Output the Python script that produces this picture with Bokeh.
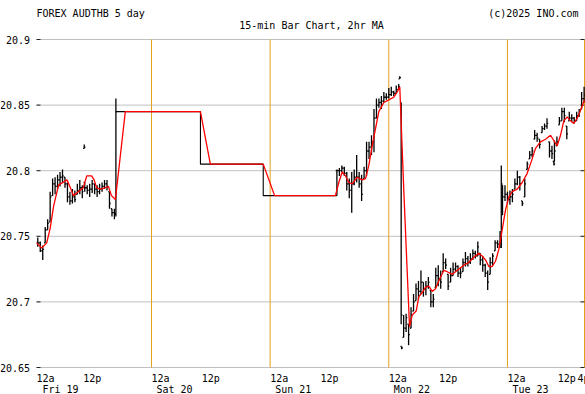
from bokeh.plotting import figure
from bokeh.models import Range1d, ColumnDataSource
from bokeh.core.properties import value
from bokeh.embed import file_html
from bokeh.resources import INLINE

# ---- data (time in hours since Fri 19 00:00, 30-min OHLC bars) ----
bar_hours = [1.0, 1.5, 2.0, 2.5, 3.0, 3.5, 4.0, 4.5, 5.0, 5.5, 6.0, 6.5, 7.0, 7.5, 8.0, 8.5,
             9.0, 9.5, 10.0, 10.4, 10.5, 11.0, 11.5, 12.0, 12.5, 13.0, 13.5, 14.0, 14.5, 15.0,
             15.5, 16.0, 16.5, 16.8,
             61.5, 62.0, 62.5, 63.0, 63.5, 64.0, 64.5, 65.0, 65.5, 66.0, 66.5, 67.0, 67.5, 68.0,
             68.5, 69.0, 69.5, 70.0, 70.5, 71.0, 71.5, 72.0, 72.5, 73.0, 73.5, 74.0, 74.2, 74.5,
             74.6,
             75.0, 75.5, 76.0, 76.5, 77.0, 77.5, 78.0, 78.5, 79.0, 79.5, 80.0, 80.5, 81.0, 81.5,
             82.0, 82.5, 83.0, 83.5, 84.0, 84.5, 85.0, 85.5, 86.0, 86.5, 87.0, 87.5, 88.0, 88.5,
             89.0, 89.5, 90.0, 90.5, 91.0, 91.5, 92.0, 92.5, 93.0, 93.5, 94.0, 94.5,
             94.75, 95.0, 95.5, 96.0, 96.5, 97.0, 97.5, 98.0, 98.5, 99.0, 99.5, 100.0, 100.5,
             101.0, 101.5, 102.0, 102.5, 103.0, 103.5, 104.0, 104.5, 105.0, 105.4, 105.5, 106.0,
             106.5, 107.0, 107.5, 108.0, 108.5, 109.0, 109.5, 110.0, 110.5, 111.0, 111.5]
bar_high = [20.749, 20.746, 20.743, 20.757, 20.763, 20.784, 20.794, 20.795, 20.797, 20.799,
            20.801, 20.795, 20.791, 20.784, 20.786, 20.785, 20.790, 20.793, 20.789, 20.820,
            20.791, 20.789, 20.790, 20.793, 20.790, 20.789, 20.790, 20.791, 20.793, 20.793,
            20.784, 20.771, 20.771, 20.855,
            20.801, 20.802, 20.804, 20.803, 20.799, 20.794, 20.799, 20.801, 20.812, 20.799,
            20.797, 20.803, 20.822, 20.822, 20.827, 20.847, 20.855, 20.855, 20.857, 20.860,
            20.859, 20.863, 20.864, 20.861, 20.865, 20.866, 20.872, 20.852, 20.666,
            20.690, 20.691, 20.683, 20.696, 20.706, 20.714, 20.716, 20.724, 20.715, 20.716,
            20.719, 20.709, 20.706, 20.726, 20.728, 20.724, 20.737, 20.733, 20.721, 20.726,
            20.730, 20.730, 20.728, 20.726, 20.733, 20.738, 20.735, 20.737, 20.740, 20.739,
            20.746, 20.737, 20.735, 20.729, 20.724, 20.734, 20.737, 20.747, 20.747, 20.754,
            20.804, 20.789, 20.789, 20.784, 20.785, 20.786, 20.794, 20.800, 20.796, 20.777,
            20.794, 20.807, 20.815, 20.818, 20.831, 20.829, 20.824, 20.834, 20.836, 20.840,
            20.822, 20.819, 20.807, 20.823, 20.826, 20.841, 20.848, 20.848, 20.834, 20.845,
            20.843, 20.841, 20.845, 20.847, 20.860, 20.864]
bar_low = [20.742, 20.738, 20.732, 20.745, 20.755, 20.761, 20.781, 20.782, 20.786, 20.788,
           20.791, 20.787, 20.776, 20.774, 20.775, 20.776, 20.782, 20.782, 20.779, 20.817,
           20.784, 20.782, 20.780, 20.783, 20.782, 20.780, 20.782, 20.784, 20.786, 20.785,
           20.771, 20.765, 20.763, 20.765,
           20.781, 20.796, 20.799, 20.796, 20.785, 20.779, 20.768, 20.789, 20.791, 20.787,
           20.777, 20.794, 20.796, 20.809, 20.812, 20.814, 20.840, 20.848, 20.847, 20.852,
           20.854, 20.855, 20.857, 20.857, 20.859, 20.862, 20.870, 20.683, 20.664,
           20.673, 20.677, 20.667, 20.680, 20.693, 20.701, 20.702, 20.706, 20.704, 20.705,
           20.710, 20.696, 20.696, 20.711, 20.712, 20.710, 20.723, 20.725, 20.709, 20.715,
           20.720, 20.723, 20.719, 20.718, 20.723, 20.727, 20.727, 20.729, 20.732, 20.733,
           20.735, 20.728, 20.723, 20.719, 20.709, 20.721, 20.728, 20.739, 20.741, 20.741,
           20.741, 20.766, 20.777, 20.775, 20.774, 20.776, 20.786, 20.789, 20.785, 20.773,
           20.780, 20.801, 20.809, 20.810, 20.824, 20.822, 20.817, 20.829, 20.831, 20.832,
           20.810, 20.809, 20.804, 20.807, 20.819, 20.835, 20.838, 20.837, 20.824, 20.838,
           20.837, 20.836, 20.838, 20.841, 20.847, 20.852]
bar_close = [20.745, 20.739, 20.740, 20.755, 20.760, 20.780, 20.790, 20.788, 20.793, 20.795,
             20.796, 20.790, 20.780, 20.777, 20.780, 20.778, 20.785, 20.787, 20.784, 20.818,
             20.787, 20.785, 20.786, 20.790, 20.786, 20.784, 20.786, 20.788, 20.790, 20.788,
             20.775, 20.768, 20.767, 20.845,
             20.800, 20.800, 20.802, 20.798, 20.790, 20.785, 20.790, 20.795, 20.795, 20.790,
             20.782, 20.800, 20.815, 20.818, 20.822, 20.840, 20.850, 20.852, 20.853, 20.856,
             20.856, 20.858, 20.860, 20.859, 20.862, 20.864, 20.871, 20.690, 20.665,
             20.680, 20.688, 20.675, 20.690, 20.700, 20.710, 20.708, 20.715, 20.710, 20.712,
             20.715, 20.700, 20.702, 20.720, 20.718, 20.715, 20.730, 20.728, 20.712, 20.720,
             20.725, 20.727, 20.722, 20.722, 20.730, 20.733, 20.730, 20.733, 20.737, 20.735,
             20.742, 20.732, 20.728, 20.722, 20.715, 20.730, 20.735, 20.745, 20.744, 20.750,
             20.790, 20.780, 20.782, 20.778, 20.780, 20.782, 20.790, 20.795, 20.790, 20.775,
             20.790, 20.805, 20.812, 20.815, 20.827, 20.825, 20.820, 20.832, 20.834, 20.836,
             20.815, 20.813, 20.805, 20.815, 20.822, 20.838, 20.845, 20.842, 20.828, 20.840,
             20.840, 20.838, 20.842, 20.845, 20.855, 20.858]

# weekend flat prices (step levels)
weekend_hours = [16.8, 33.9, 46.6, 61.5]
weekend_levels = [20.845, 20.805, 20.781, 20.781]

# 2hr moving average
ma_hours = [0.8, 1.8, 2.8, 3.5, 4.2, 5.2, 6.9, 7.6, 8.2, 9.2, 10.2, 10.9, 11.9, 12.4, 12.9,
            13.6, 14.6, 15.3, 15.9, 16.7, 18.7, 33.9, 35.9, 46.6, 48.9, 61.2,
            61.89, 62.57, 63.24, 63.91, 64.6, 65.61, 66.62, 67.29, 67.96, 68.64, 69.31, 69.98,
            70.99, 72.0, 73.01, 73.7, 74.22, 75.03, 76.19, 76.73, 77.54, 78.07, 78.75, 79.42,
            80.09, 80.78, 81.45, 82.11, 83.12, 83.81, 84.82, 85.49, 86.16, 87.17, 88.18, 89.19,
            90.2, 90.89, 91.56, 92.23, 92.91, 93.58, 94.25, 94.94, 95.6, 96.27, 96.96, 97.97,
            98.98, 99.99, 101.0, 101.67, 102.68, 103.7, 104.71, 105.37, 106.06, 106.73, 107.4,
            108.08, 108.75, 109.42, 110.11, 110.78, 111.58]
ma_values = [20.745, 20.741, 20.745, 20.756, 20.773, 20.789, 20.793, 20.787, 20.781, 20.784,
             20.787, 20.796, 20.796, 20.793, 20.787, 20.786, 20.787, 20.788, 20.781, 20.778,
             20.845, 20.845, 20.805, 20.805, 20.781, 20.781,
             20.791, 20.799, 20.796, 20.791, 20.790, 20.795, 20.793, 20.794, 20.804, 20.819,
             20.832, 20.845, 20.852, 20.854, 20.856, 20.860, 20.864, 20.785, 20.681, 20.690,
             20.693, 20.704, 20.707, 20.711, 20.712, 20.708, 20.710, 20.716, 20.724, 20.723,
             20.721, 20.723, 20.725, 20.728, 20.730, 20.734, 20.737, 20.735, 20.732, 20.727,
             20.727, 20.731, 20.740, 20.755, 20.770, 20.780, 20.784, 20.786, 20.791, 20.798,
             20.809, 20.817, 20.822, 20.824, 20.827, 20.823, 20.819, 20.827, 20.838, 20.841,
             20.838, 20.836, 20.840, 20.846, 20.854]

price_ticks = [20.65, 20.7, 20.75, 20.8, 20.85, 20.9]
price_labels = ["20.65", "20.7", "20.75", "20.8", "20.85", "20.9"]
midnight_hours = [24, 48, 72, 96]
noon_hours = [12, 36, 60, 84, 108]
end_label = "4p"
day_names = ["Fri 19", "Sat 20", "Sun 21", "Mon 22", "Tue 23"]
title_text = "FOREX AUDTHB 5 day"
subtitle_text = "15-min Bar Chart, 2hr MA"
credit_text = "(c)2025 INO.com"

# ---- layout: the frame is the whole canvas; the data area is a sub-rectangle ----
W, H = 585, 394
LEFT_PX, TOP_PX, LINE_PX = 36, 39, 367     # data-area left, 20.9 line, 20.65 line (canvas px)
PX_PER_H = 4.944
X0 = 0.74
X1 = X0 + (584 - LEFT_PX) / PX_PER_H
Y1, YLOW = 20.9, 20.65
pyv = (LINE_PX - TOP_PX) / (Y1 - YLOW)
XS = X0 - LEFT_PX / PX_PER_H
XE = XS + W / PX_PER_H
YT = Y1 + TOP_PX / pyv
YB = Y1 - (H - TOP_PX) / pyv
FONT = "DejaVu Sans Mono"
GRID = "#c0c0c0"
ORANGE = "#e3a21a"


def ax(px):   # canvas x pixel -> hours
    return XS + px / PX_PER_H


def ay(py):   # canvas y pixel -> price
    return YT - py / pyv


p = figure(width=W, height=H, x_range=Range1d(XS, XE), y_range=Range1d(YB, YT),
           output_backend="svg", toolbar_location=None, x_axis_type=None, y_axis_type=None,
           title=None, min_border=0, min_border_left=0, min_border_right=0,
           min_border_top=0, min_border_bottom=0)
p.outline_line_color = None
p.background_fill_color = "white"
p.border_fill_color = "white"


def txt(xs, ys, texts, align, baseline="alphabetic"):
    p.text(x=xs, y=ys, text=texts, text_align=align, text_baseline=baseline,
           text_font=value(FONT), text_font_size="10px", text_color="black")


# grid lines and day separators
n = len(price_ticks)
p.segment(x0=[X0] * n, y0=price_ticks, x1=[X1] * n, y1=price_ticks,
          line_color=GRID, line_width=1)
sep_hours = midnight_hours + [X1]
p.segment(x0=sep_hours, y0=[YLOW] * len(sep_hours), x1=sep_hours, y1=[Y1] * len(sep_hours),
          line_color=ORANGE, line_width=1)
# short tick marks on both sides of the data area
tk = 4 / PX_PER_H
p.segment(x0=[X0] * n, y0=price_ticks, x1=[X0 + tk] * n, y1=price_ticks, line_color="#222222", line_width=1)
p.segment(x0=[X1 - tk] * n, y0=price_ticks, x1=[X1] * n, y1=price_ticks, line_color="#222222", line_width=1)

# price labels
txt([ax(29.5)] * n, price_ticks, price_labels, "right", "middle")

# titles
txt([ax(36)], [ay(13)], [title_text], "left")
txt([ax(578)], [ay(13)], [credit_text], "right")
txt([ax(311)], [ay(25)], [subtitle_text], "center")

# time labels
yh = ay(LINE_PX + 10.5)
txt([X0] + midnight_hours, [yh] * (1 + len(midnight_hours)), ["12a"] * (1 + len(midnight_hours)), "left")
txt(noon_hours, [yh] * len(noon_hours), ["12p"] * len(noon_hours), "center")
txt([ax(577)], [yh], [end_label], "left")
yd = ay(LINE_PX + 22)
day_x = [X0 + 6 / PX_PER_H] + [h + 5 / PX_PER_H for h in midnight_hours]
txt(day_x, [yd] * len(day_x), day_names, "left")

# OHLC bars
tick = 0.24
opens = []
for i, c in enumerate(bar_close):
    if i > 0 and bar_hours[i] - bar_hours[i - 1] <= 0.51:
        o = min(max(bar_close[i - 1], bar_low[i]), bar_high[i])
    else:
        o = c
    opens.append(o)
src = ColumnDataSource(dict(
    x=bar_hours, hi=bar_high, lo=bar_low, c=bar_close, o=opens,
    xr=[h + tick for h in bar_hours], xl=[h - tick for h in bar_hours]))
p.segment(x0="x", y0="lo", x1="x", y1="hi", source=src, line_color="black", line_width=1.3)
p.segment(x0="x", y0="c", x1="xr", y1="c", source=src, line_color="black", line_width=1.3)
p.segment(x0="xl", y0="o", x1="x", y1="o", source=src, line_color="black", line_width=1.3)

p.step(x=weekend_hours, y=weekend_levels, mode="after", line_color="black", line_width=1.1)

p.line(x=ma_hours, y=ma_values, line_color="#ff0000", line_width=1.3)

open("out.html", "w").write(file_html(p, INLINE))
